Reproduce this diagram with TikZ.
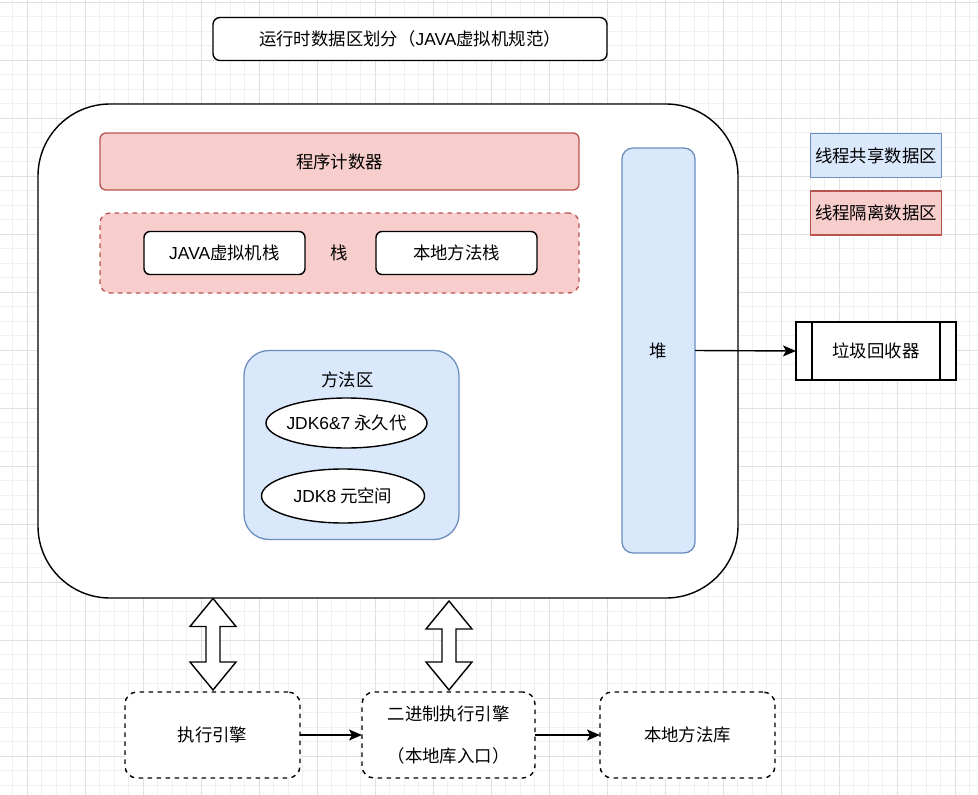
\documentclass[tikz,border=0pt]{standalone}
\usepackage{fontspec}
\setmainfont{Noto Sans CJK SC}
\newfontfamily\lat{Liberation Sans}
\usetikzlibrary{arrows.meta,calc,shapes.geometric}
\definecolor{redfill}{HTML}{F8CECC}
\definecolor{redline}{HTML}{B85450}
\definecolor{bluefill}{HTML}{DAE8FC}
\definecolor{blueline}{HTML}{6C8EBF}
\definecolor{gridminor}{HTML}{F0F0F0}
\definecolor{gridmajor}{HTML}{E0E0E0}
\newcommand\dblarrow[2]{%
  \draw[blockarrow] (#1) -- ($(#1)+(23,28)$) -- ($(#1)+(7,28)$) -- ($(#2)+(7,-28)$) -- ($(#2)+(23,-28)$) -- (#2)
    -- ($(#2)+(-23,-28)$) -- ($(#2)+(-7,-28)$) -- ($(#1)+(-7,28)$) -- ($(#1)+(-23,28)$) -- cycle;}
\begin{document}
\begin{tikzpicture}[x=1pt,y=-1pt,
  every node/.style={font=\fontsize{17.4}{21}\selectfont, inner sep=0pt, outer sep=0pt, text=black},
  box/.style={draw=black, line width=1.4pt, fill=white, rectangle},
  redbox/.style={draw=redline, line width=1.3pt, fill=redfill, rectangle},
  bluebox/.style={draw=blueline, line width=1.3pt, fill=bluefill, rectangle},
  ellbox/.style={draw=black, line width=1.4pt, fill=white, ellipse, inner xsep=-40pt, inner ysep=-8pt},
  dashbox/.style={box, dash pattern=on 4.5pt off 4.5pt, rounded corners=12pt},
  conn/.style={draw=black, line width=1.4pt, -{Stealth[length=13pt,width=11pt,inset=3pt]}},
  blockarrow/.style={draw=black, line width=1.4pt, fill=white, line join=miter},
  plain/.style={inner sep=0pt}
]
\useasboundingbox (0,0) rectangle (978,795);
\fill[white] (0,0) rectangle (978,795);
% grid
\begin{scope}
\clip (0,0) rectangle (978,795);
\foreach \i in {0,...,67} {\draw[gridminor, line width=1pt] ({-1.7+14.5*\i},0) -- ({-1.7+14.5*\i},795);}
\foreach \i in {0,...,54} {\draw[gridminor, line width=1pt] (0,{2.3+14.5*\i}) -- (978,{2.3+14.5*\i});}
\foreach \i in {0,...,16} {\draw[gridmajor, line width=1.1pt] ({27.3+58*\i},0) -- ({27.3+58*\i},795);}
\foreach \i in {0,...,13} {\draw[gridmajor, line width=1.1pt] (0,{2.3+58*\i}) -- (978,{2.3+58*\i});}
\end{scope}

% title
\node[box, rounded corners=7pt, minimum width=394pt, minimum height=43pt] (title) at (410,39)
  {运行时数据区划分（{\lat JAVA}虚拟机规范）};

% main runtime area
\node[box, rounded corners=72pt, minimum width=700pt, minimum height=494pt] (big) at (388,351) {};

\node[redbox, rounded corners=6pt, minimum width=479pt, minimum height=57pt] (pc) at (339.5,161.5) {程序计数器};
\node[redbox, dash pattern=on 4.5pt off 4.5pt, rounded corners=10pt, minimum width=479pt, minimum height=80pt] (stack) at (339.5,253) {};
\node[box, rounded corners=6pt, minimum width=161pt, minimum height=43pt] (jvms) at (224.5,253) {{\lat JAVA}虚拟机栈};
\node[plain] (stacklabel) at (339.5,253) {栈};
\node[box, rounded corners=6pt, minimum width=161pt, minimum height=43pt] (nats) at (456.5,253) {本地方法栈};

\node[bluebox, rounded corners=11pt, minimum width=73pt, minimum height=405pt] (heap) at (658.5,350.5) {堆};

\node[bluebox, rounded corners=25pt, minimum width=215pt, minimum height=189pt] (method) at (351.5,445) {};
\node[plain] (methodlabel) at (347.5,380) {方法区};
\node[ellbox, minimum width=161pt, minimum height=50pt] (perm) at (346.5,423) {{\lat JDK6\&7} 永久代};
\node[ellbox, minimum width=163pt, minimum height=54pt] (meta) at (343,496) {{\lat JDK8} 元空间};

% garbage collector
\node[box, minimum width=160pt, minimum height=58pt] (gc) at (876,351) {垃圾回收器};
\draw[black, line width=1.4pt] ([xshift=16pt]gc.north west) -- ([xshift=16pt]gc.south west);
\draw[black, line width=1.4pt] ([xshift=-16pt]gc.north east) -- ([xshift=-16pt]gc.south east);

% legend
\node[bluebox, minimum width=131pt, minimum height=43.5pt] (shared) at (876,155.5) {线程共享数据区};
\node[redbox, minimum width=131pt, minimum height=44pt] (isolated) at (876,213) {线程隔离数据区};

% engines
\node[dashbox, minimum width=175pt, minimum height=86pt] (exec) at (212.5,735) {执行引擎};
\node[dashbox, minimum width=173pt, minimum height=86pt, align=center] (bin) at (448.5,735) {二进制执行引擎\\[21pt]（本地库入口）};
\node[dashbox, minimum width=175pt, minimum height=86pt] (natlib) at (687.5,735) {本地方法库};

% connectors
\draw[conn] (heap.east) -- (gc.west);
\draw[conn] (exec.east) -- (bin.west);
\draw[conn] (bin.east) -- (natlib.west);

% double block arrows
\coordinate (a1t) at (213,598.5);
\coordinate (a1b) at (213,690);
\coordinate (a2t) at (449,601);
\coordinate (a2b) at (449,690);
\dblarrow{a1t}{a1b}
\dblarrow{a2t}{a2b}
\end{tikzpicture}
\end{document}
